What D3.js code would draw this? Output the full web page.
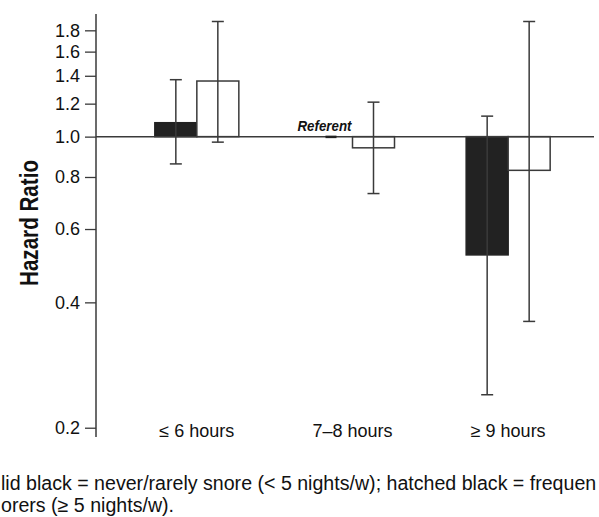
<!DOCTYPE html>
<html lang="en">
<head>
<meta charset="UTF-8">
<title>Hazard Ratio by sleep duration and snoring</title>
<script src="https://d3js.org/d3.v7.min.js"></script>
<style>
    body { margin: 0; background: #fff; }
    text { font-family: "Liberation Sans", Arial, sans-serif; fill: #111; }
    .ylabel { font-weight: bold; }
</style>
</head>
<body>
<svg width="599" height="517"></svg>
<script>
    // sleep duration groups
    const categories = ["≤ 6 hours", "7–8 hours", "≥ 9 hours"];
    // never/rarely snore (solid black)
    const hrNever = [1.08, 1.0, 0.52];
    const loNever = [0.86, null, 0.24];
    const hiNever = [1.37, null, 1.12];
    // frequent snorers (white)
    const hrFreq = [1.36, 0.94, 0.83];
    const loFreq = [0.97, 0.73, 0.36];
    const hiFreq = [1.89, 1.21, 1.89];
    const yTicks = [0.2, 0.4, 0.6, 0.8, 1.0, 1.2, 1.4, 1.6, 1.8];
    const referentIndex = 1;
    // caption text as it shows in the source (cut at both edges there)
    const captionLines = [
        "lid black = never/rarely snore (< 5 nights/w); hatched black = frequen",
        "orers (≥ 5 nights/w)."
    ];

    const svg = d3.select("svg");
    const axisX = 96, plotTop = 14, plotBottom = 437;

    const y = d3.scaleLog().domain([0.19, 1.97]).range([plotBottom, plotTop]);
    const x = d3.scaleBand().domain(categories).range([119, 586]);
    const barW = 42;
    const cx = c => x(c) + x.bandwidth() / 2;

    const lineCol = "#3a3a3a";

    // y axis
    const yAxis = svg.append("g")
        .attr("transform", `translate(${axisX},0)`)
        .call(d3.axisLeft(y).tickValues(yTicks).tickFormat(d3.format(".1f")).tickSize(11).tickPadding(5));
    yAxis.select(".domain").attr("d", `M0,${plotTop}V${plotBottom}`).attr("stroke", lineCol).attr("stroke-width", 1.5);
    yAxis.selectAll(".tick line").attr("stroke", lineCol).attr("stroke-width", 1.3);
    yAxis.selectAll(".tick text").style("font-size", "18px").attr("fill", "#111")
        .style("font-family", "'Liberation Sans', Arial, sans-serif");

    // narrow bold label, squeezed to the source length
    svg.append("text").attr("class", "ylabel")
        .attr("transform", `translate(38,223) rotate(-90)`)
        .attr("text-anchor", "middle")
        .attr("textLength", 126)
        .attr("lengthAdjust", "spacingAndGlyphs")
        .style("font-size", "26px")
        .text("Hazard Ratio");

    // build bar rows from the arrays
    const rows = [];
    categories.forEach((c, i) => {
        rows.push({ cat: c, i, kind: "never", hr: hrNever[i], lo: loNever[i], hi: hiNever[i] });
        rows.push({ cat: c, i, kind: "freq", hr: hrFreq[i], lo: loFreq[i], hi: hiFreq[i] });
    });
    const barX = d => d.kind === "never" ? cx(d.cat) - barW : cx(d.cat);

    const bars = rows.filter(d => !(d.kind === "never" && d.i === referentIndex));
    svg.append("g").selectAll("rect")
        .data(bars)
        .join("rect")
        .attr("x", barX)
        .attr("width", barW)
        .attr("y", d => Math.min(y(d.hr), y(1)))
        .attr("height", d => Math.abs(y(d.hr) - y(1)))
        .attr("fill", d => d.kind === "never" ? "#222" : "#fff")
        .attr("stroke", d => d.kind === "never" ? "#222" : lineCol)
        .attr("stroke-width", 1.5);

    // reference line at HR = 1
    svg.append("line")
        .attr("x1", axisX).attr("x2", 594)
        .attr("y1", y(1)).attr("y2", y(1))
        .attr("stroke", lineCol).attr("stroke-width", 1.5);

    // referent marker
    const refCat = categories[referentIndex];
    svg.append("rect")
        .attr("x", cx(refCat) - barW / 2 - 6).attr("width", 11)
        .attr("y", y(1) - 1).attr("height", 2.5)
        .attr("fill", "#222");
    svg.append("text")
        .attr("x", cx(refCat) - barW / 2 - 7).attr("y", y(1) - 6)
        .attr("text-anchor", "middle")
        .attr("textLength", 54)
        .attr("lengthAdjust", "spacingAndGlyphs")
        .style("font-size", "15px").style("font-weight", "bold").style("font-style", "italic")
        .text("Referent");

    // error bars
    const errs = rows.filter(d => d.lo != null);
    const eb = svg.append("g").attr("stroke", lineCol).attr("stroke-width", 1.5);
    errs.forEach(d => {
        const ex = barX(d) + barW / 2;
        eb.append("line").attr("x1", ex).attr("x2", ex).attr("y1", y(d.lo)).attr("y2", y(d.hi));
        eb.append("line").attr("x1", ex - 6).attr("x2", ex + 6).attr("y1", y(d.lo)).attr("y2", y(d.lo));
        eb.append("line").attr("x1", ex - 6).attr("x2", ex + 6).attr("y1", y(d.hi)).attr("y2", y(d.hi));
    });

    // category labels
    svg.append("g").selectAll("text")
        .data(categories)
        .join("text")
        .attr("x", d => cx(d))
        .attr("y", 437)
        .attr("text-anchor", "middle")
        .style("font-size", "18px")
        .text(d => d);

    // caption
    svg.append("g").selectAll("text")
        .data(captionLines)
        .join("text")
        .attr("x", 1)
        .attr("y", (d, k) => 490 + k * 22)
        .style("font-size", "19.6px")
        .text(d => d);
</script>
</body>
</html>
